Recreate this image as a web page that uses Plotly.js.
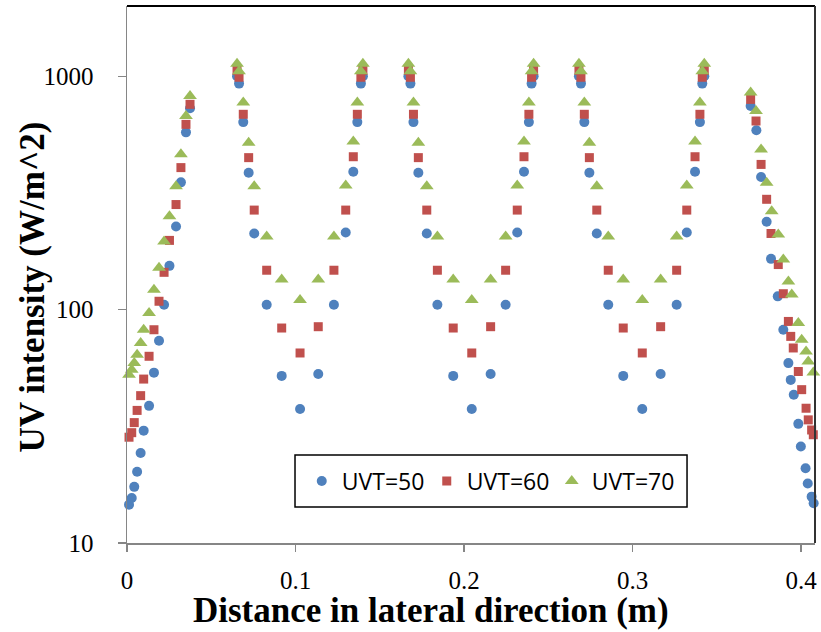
<!DOCTYPE html>
<html><head><meta charset="utf-8">
<script src="https://cdn.plot.ly/plotly-3.0.1.min.js"></script>
<style>html,body{margin:0;padding:0;background:#fff}#chart{width:821px;height:632px}</style>
</head><body><div id="chart"></div>
<script>
// Distance in lateral direction (m)
var x50 = [0.0012,0.0028,0.0043,0.0060,0.0081,0.0099,0.0131,0.0160,0.0190,0.0220,0.0252,0.0291,0.0320,0.0350,0.0374,
  0.0653,0.0665,0.0690,0.0722,0.0755,0.0829,0.0918,0.1027,0.1135,0.1228,0.1298,0.1343,0.1367,0.1388,0.1400,
  0.1670,0.1682,0.1700,0.1729,0.1779,0.1842,0.1936,0.2046,0.2158,0.2247,0.2316,0.2356,0.2385,0.2401,0.2413,
  0.2682,0.2694,0.2714,0.2744,0.2788,0.2856,0.2945,0.3058,0.3167,0.3262,0.3322,0.3371,0.3400,0.3414,0.3426,
  0.3701,0.3735,0.3763,0.3796,0.3822,0.3862,0.3895,0.3925,0.3939,0.3957,0.3984,0.3999,0.4027,0.4040,0.4063,0.4075];
var y50 = [14.6,15.6,17.4,20.2,24.3,30.3,38.7,53.7,73.6,105,154,227,351,575,729,
  1000,930,636,386,212,105,52,37.5,53,105,214,390,636,930,1000,
  1000,930,636,386,212,105,52,37.5,53,105,214,390,636,930,1000,
  1000,930,636,386,212,105,52,37.5,53,105,214,390,636,930,1000,
  746,587,370,238,165,114,82,59,50,43.2,32.4,25.9,20.9,18.0,15.8,14.8];

var x60 = [0.0012,0.0028,0.0043,0.0060,0.0081,0.0099,0.0131,0.0160,0.0190,0.0220,0.0252,0.0291,0.0320,0.0350,0.0374,
  0.0653,0.0665,0.0690,0.0722,0.0755,0.0829,0.0918,0.1027,0.1135,0.1228,0.1298,0.1343,0.1367,0.1388,0.1400,
  0.1670,0.1682,0.1700,0.1729,0.1779,0.1842,0.1936,0.2046,0.2158,0.2247,0.2316,0.2356,0.2385,0.2401,0.2413,
  0.2682,0.2694,0.2714,0.2744,0.2788,0.2856,0.2945,0.3058,0.3167,0.3262,0.3322,0.3371,0.3400,0.3414,0.3426,
  0.3701,0.3733,0.3763,0.3796,0.3822,0.3865,0.3895,0.3925,0.3939,0.3954,0.3984,0.4004,0.4030,0.4043,0.4063,0.4073];
var y60 = [28.4,29.7,32.8,37.0,42.8,50.4,63.1,82.0,108.6,144.5,198,282,406,622,758,
  1060,990,687,448,267,147.5,83.4,65.2,84.5,147.5,267,452,687,990,1060,
  1060,990,687,448,267,147.5,83.4,65.2,84.5,147.5,267,452,687,990,1060,
  1060,990,687,448,267,147.5,83.4,65.2,84.5,147.5,267,452,687,990,1060,
  796,643,419,297,212,156,117,89,76.8,68.5,54.3,45.4,37.8,33.7,30.5,29.1];

var x70 = [0.0012,0.0028,0.0043,0.0060,0.0081,0.0099,0.0131,0.0160,0.0190,0.0220,0.0252,0.0291,0.0320,0.0350,0.0374,
  0.0653,0.0665,0.0690,0.0722,0.0755,0.0829,0.0918,0.1027,0.1135,0.1228,0.1298,0.1343,0.1367,0.1388,0.1400,
  0.1670,0.1682,0.1700,0.1729,0.1779,0.1842,0.1936,0.2046,0.2158,0.2247,0.2316,0.2356,0.2385,0.2401,0.2413,
  0.2682,0.2694,0.2714,0.2744,0.2788,0.2856,0.2945,0.3058,0.3167,0.3262,0.3322,0.3371,0.3400,0.3414,0.3426,
  0.3701,0.3733,0.3763,0.3796,0.3826,0.3865,0.3895,0.3925,0.3945,0.3984,0.4004,0.4030,0.4043,0.4073];
var y70 = [52.6,55.3,59.0,64.1,72.0,82.0,96.8,121.8,151,196,251,338,463,676,823,
  1130,1050,771,519,338,206,134.5,110,134.5,206,340,525,771,1050,1130,
  1130,1050,771,519,338,206,134.5,110,134.5,206,340,525,771,1050,1130,
  1130,1050,771,519,338,206,134.5,110,134.5,206,340,525,771,1050,1130,
  851,710,486,350,264,210,164,132,116,87.7,74.3,66.2,60,53.8];

var seriesNames = ['UVT=50','UVT=60','UVT=70'];
var xTicks = [0,0.1,0.2,0.3,0.4];
var xTickText = ['0','0.1','0.2','0.3','0.4'];
var yTicks = [10,100,1000];
var yTickText = ['10','100','1000'];

var traces = [
  {x:x50, y:y50, name:seriesNames[0], type:'scatter', mode:'markers', cliponaxis:false,
   marker:{symbol:'circle', size:10, color:'#4F81BD'}},
  {x:x60, y:y60, name:seriesNames[1], type:'scatter', mode:'markers', cliponaxis:false,
   marker:{symbol:'square', size:9, color:'#C0504D'}},
  {x:x70, y:y70, name:seriesNames[2], type:'scatter', mode:'markers', cliponaxis:false,
   marker:{symbol:'triangle-up', size:12, color:'#9BBB59'}}
];

var layout = {
  width:821, height:632,
  margin:{l:127, r:6, t:6, b:89},
  paper_bgcolor:'#fff', plot_bgcolor:'#fff',
  showlegend:true,
  xaxis:{range:[0,0.4083], tickvals:xTicks, ticktext:xTickText, showgrid:false, zeroline:false,
    showline:true, linecolor:'#868686', linewidth:1.5, ticks:'outside', ticklen:7, tickcolor:'#868686', tickwidth:1.5,
    ticklabelstandoff:7, tickfont:{family:'Liberation Serif', size:25, color:'#000'}},
  yaxis:{type:'log', range:[1, Math.log10(2000)], tickvals:yTicks, ticktext:yTickText, showgrid:false, zeroline:false,
    showline:true, linecolor:'#868686', linewidth:1.5, ticks:'outside', ticklen:8, tickcolor:'#868686', tickwidth:1.5,
    ticklabelstandoff:19, tickfont:{family:'Liberation Serif', size:25, color:'#000'}},
  legend:{orientation:'h', x:0.254, y:0.1155, xanchor:'left', yanchor:'middle', bgcolor:'rgba(0,0,0,0)',
    borderwidth:0, entrywidth:80, entrywidthmode:'pixels',
    font:{family:'Open Sans', size:23, color:'#000'}},
  shapes:[
    {type:'rect', xref:'paper', yref:'paper', x0:0.2442, x1:0.814, y0:0.067, y1:0.164,
     fillcolor:'#fff', line:{color:'#000', width:1.5}, layer:'above'},
    {type:'line', xref:'paper', yref:'paper', x0:0, x1:1, y0:1, y1:1, line:{color:'#000', width:2}},
    {type:'line', xref:'paper', yref:'paper', x0:1, x1:1, y0:0, y1:1, line:{color:'#333', width:2}}
  ],
  annotations:[
    {text:'Distance in lateral direction (m)', xref:'paper', yref:'paper', x:0.442, y:-0.1255,
     xanchor:'center', yanchor:'middle', showarrow:false,
     font:{family:'Liberation Serif', size:35, color:'#000', weight:'bold'}},
    {text:'UV intensity (W/m^2)', xref:'paper', yref:'paper', x:-0.1375, y:0.4767, textangle:-90,
     xanchor:'center', yanchor:'middle', showarrow:false,
     font:{family:'Liberation Serif', size:35, color:'#000', weight:'bold'}}
  ]
};

Plotly.newPlot('chart', traces, layout, {displayModeBar:false, staticPlot:true});
</script></body></html>
